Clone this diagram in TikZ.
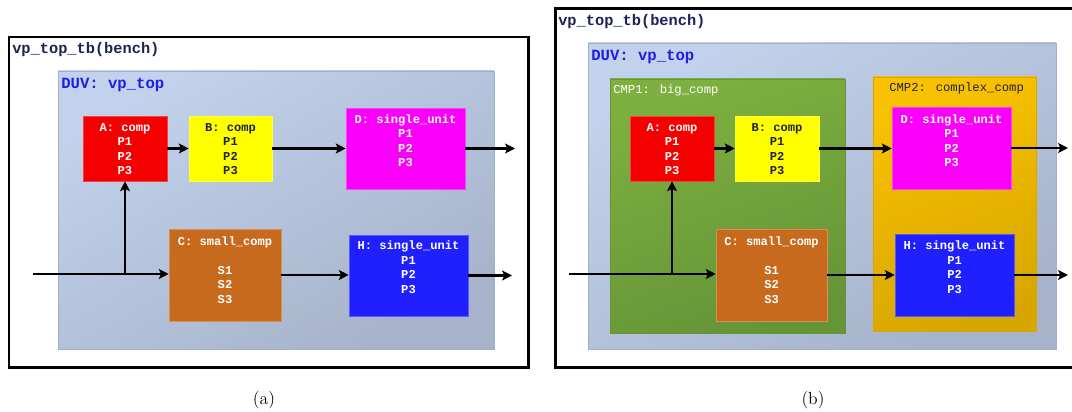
\documentclass[tikz,border=0pt]{standalone}
\usepackage{fontspec}
\newfontfamily\monofont{Liberation Mono}
\usetikzlibrary{arrows.meta,fit}

\definecolor{benchnavy}{HTML}{1B2455}
\definecolor{duvblue}{HTML}{1E1EE6}
\definecolor{duvlight}{HTML}{C2D2EC}
\definecolor{duvdark}{HTML}{A6B3CA}
\definecolor{duvline}{HTML}{9FB0C8}
\definecolor{greenlight}{HTML}{7DB040}
\definecolor{greendark}{HTML}{659537}
\definecolor{goldlight}{HTML}{F9C200}
\definecolor{golddark}{HTML}{D8A600}
\definecolor{compred}{HTML}{F40000}
\definecolor{compyellow}{HTML}{FFFF00}
\definecolor{unitmagenta}{HTML}{FA00FA}
\definecolor{smallorange}{HTML}{C86A1E}
\definecolor{unitblue}{HTML}{2020FF}
\definecolor{textdark}{HTML}{202040}

\tikzset{
	benchframe/.style={draw=black, line width=2.1pt, inner sep=0pt},
	duvbox/.style={inner sep=0pt, draw=duvline, line width=0.4pt, top color=duvlight, bottom color=duvdark, shading angle=30},
	cmpbox/.style 2 args={inner sep=0pt, draw=#2, line width=0.4pt, top color=#1, bottom color=#2, shading angle=20},
	block/.style={inner sep=0pt, fill=#1, draw=#1!75!white, line width=0.4pt},
	blocktext/.style={font=\monofont\bfseries\fontsize{8.6}{10.3}\selectfont, align=center, inner sep=0pt, text=#1},
	benchtext/.style={anchor=west, inner sep=0pt, font=\monofont\bfseries\fontsize{10.9}{13}\selectfont, text=benchnavy},
	duvtext/.style={anchor=west, inner sep=0pt, font=\monofont\bfseries\fontsize{11.1}{13}\selectfont, text=duvblue},
	cmptext/.style={anchor=west, inner sep=0pt, font=\monofont\fontsize{8.7}{10}\selectfont, text=#1},
	captext/.style={inner sep=0pt, font=\fontsize{12.5}{15}\selectfont},
	wire/.style={line width=2pt, -{Stealth[length=7pt,width=7pt,inset=1.5pt]}},
}

\begin{document}
\begin{tikzpicture}[x=0.025cm, y=-0.025cm]
		%%%%% START %%%%%
		\useasboundingbox (0,0) rectangle (1072,412);
		
		%%%%% (a) %%%%%
		\node[benchframe, fit={(9,37) (528.5,367.5)}] (benchA) {};
		\node[benchtext] (benchlblA) at (12,50) {vp\_top\_tb(bench)};
		
		\node[duvbox, fit={(58,71) (494,349)}] (duvA) {};
		\node[duvtext] (duvlblA) at (61,85) {DUV: vp\_top};
		
		\node[block=compred, fit={(83,116) (167,181)}] (Aa) {};
		\node[block=compyellow, fit={(189,116) (272,181)}] (Ba) {};
		\node[block=unitmagenta, fit={(346,108) (465,189)}] (Da) {};
		\node[block=smallorange, fit={(169,229) (281,321)}] (Ca) {};
		\node[block=unitblue, fit={(349,235) (468,316)}] (Ha) {};
		
		\node[blocktext=white] (Atxta) at (125,149) {A: comp\\P1\\P2\\P3};
		\node[blocktext=textdark] (Btxta) at (230.5,149) {B: comp\\P1\\P2\\P3};
		\node[blocktext=white] (Dtxta) at (405.5,140.5) {D: single\_unit\\P1\\P2\\P3};
		\node[blocktext=white] (Ctxta) at (225,270) {C: small\_comp\\\mbox{}\\S1\\S2\\S3};
		\node[blocktext=white] (Htxta) at (408.5,267) {H: single\_unit\\P1\\P2\\P3};
		
		\coordinate (inA) at (33,274);
		\coordinate (jA) at (125,274);
		\coordinate (outDa) at (515,148.5);
		\coordinate (outHa) at (512,275);
		
		\draw[wire] (Aa) -- (Ba);
		\draw[wire] (Ba) -- (Da);
		\draw[wire] (Da) -- (Da -| outDa);
		\draw[wire] (inA) -- (inA -| Ca.west);
		\draw[wire] (jA) -- (jA |- Aa.south);
		\draw[wire] (Ca) -- (Ca -| Ha.west);
		\draw[wire] (Ha) -- (Ha -| outHa);
		
		\node[captext] (capA) at (264,400) {(a)};
		
		%%%%% (b) %%%%%
		\node[benchframe, fit={(555.5,8.5) (1080,367.5)}] (benchB) {};
		\node[benchtext] (benchlblB) at (558,22) {vp\_top\_tb(bench)};
		
		\node[duvbox, fit={(588,43) (1056,349)}] (duvB) {};
		\node[duvtext] (duvlblB) at (591,57) {DUV: vp\_top};
		
		\node[cmpbox={greenlight}{greendark}, fit={(610,79) (845,333)}] (cmp1) {};
		\node[cmptext=white] (cmp1lbl) at (613,90) {CMP1: big\_comp};
		\node[cmpbox={goldlight}{golddark}, fit={(873,77) (1036,331)}] (cmp2) {};
		\node[cmptext=textdark] (cmp2lbl) at (889,88) {CMP2: complex\_comp};
		
		\node[block=compred, fit={(630,116) (714,181)}] (Ab) {};
		\node[block=compyellow, fit={(735,116) (819,181)}] (Bb) {};
		\node[block=smallorange, fit={(716,229) (827,321)}] (Cb) {};
		\node[block=unitmagenta, fit={(892,107) (1011,189)}] (Db) {};
		\node[block=unitblue, fit={(895,234) (1014,316)}] (Hb) {};
		
		\node[blocktext=white] (Atxtb) at (672,149) {A: comp\\P1\\P2\\P3};
		\node[blocktext=textdark] (Btxtb) at (777,149) {B: comp\\P1\\P2\\P3};
		\node[blocktext=white] (Ctxtb) at (771.5,270) {C: small\_comp\\\mbox{}\\S1\\S2\\S3};
		\node[blocktext=white] (Dtxtb) at (951.5,140.5) {D: single\_unit\\P1\\P2\\P3};
		\node[blocktext=white] (Htxtb) at (954.5,267) {H: single\_unit\\P1\\P2\\P3};
		
		\coordinate (inB) at (569,274);
		\coordinate (jB) at (672,274);
		\coordinate (outDb) at (1068,148);
		\coordinate (outHb) at (1068,274.5);
		
		\draw[wire] (Ab) -- (Bb);
		\draw[wire] (Bb) -- (Bb -| Db.west);
		\draw[wire] (Db) -- (Db -| outDb);
		\draw[wire] (inB) -- (inB -| Cb.west);
		\draw[wire] (jB) -- (jB |- Ab.south);
		\draw[wire] (Cb) -- (Cb -| Hb.west);
		\draw[wire] (Hb) -- (Hb -| outHb);
		
		\node[captext] (capB) at (813,400) {(b)};
		
		%%%%% END %%%%%
	\end{tikzpicture}
\end{document}
